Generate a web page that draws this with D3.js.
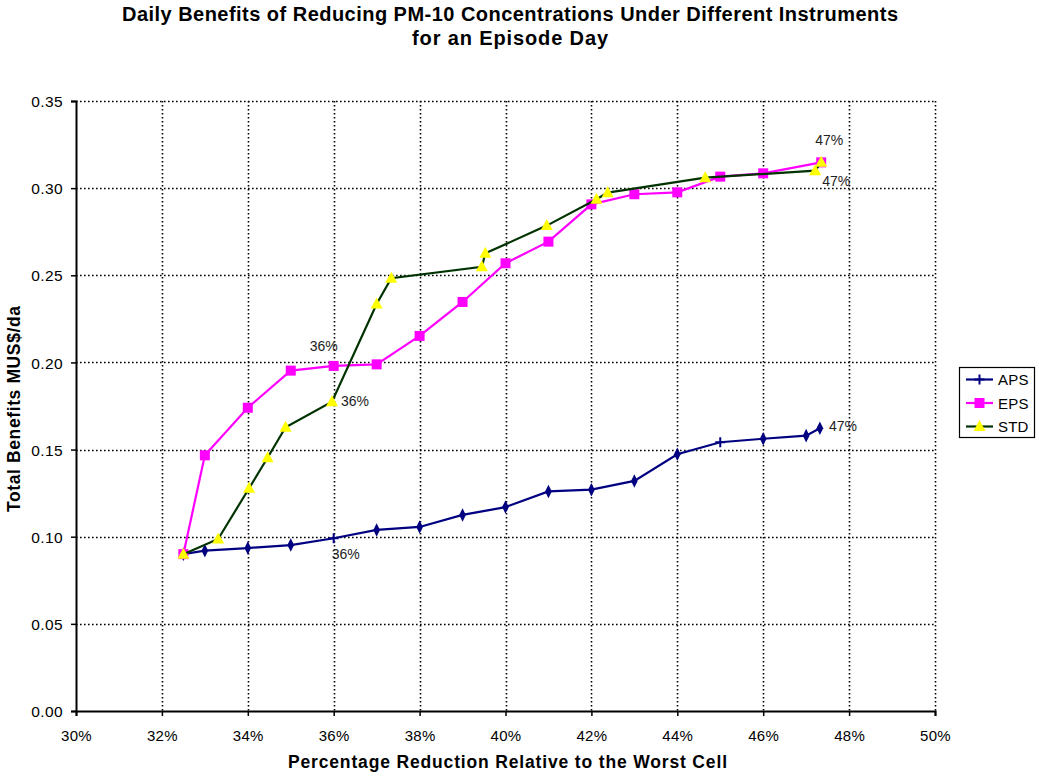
<!DOCTYPE html>
<html>
<head>
<meta charset="utf-8">
<script src="https://cdn.jsdelivr.net/npm/d3@7"></script>
<style>
  body { margin: 0; background: #fff; }
  svg { font-family: "Liberation Sans", Arial, sans-serif; }
</style>
</head>
<body>
<svg id="chart" width="1039" height="778"></svg>
<script>
// Reduction (%) and daily benefits (MUS$/day) per instrument
const apsX = [32.5, 33, 34, 35, 36, 37, 38, 39, 40, 41, 42, 43, 44, 45, 46, 47, 47.32];
const apsY = [0.090, 0.092, 0.0935, 0.0952, 0.0991, 0.1039, 0.1056, 0.1125, 0.117, 0.126, 0.127, 0.132, 0.1473, 0.1542, 0.1562, 0.158, 0.1622];
const apsMarker = ["d","d","d","d","+","d","d","d","d","d","d","d","d","+","d","d","d"];

const epsX = [32.5, 33, 34, 35, 36, 37, 38, 39, 40, 41, 42, 43, 44, 45, 46, 47.35];
const epsY = [0.090, 0.1467, 0.174, 0.1953, 0.198, 0.1989, 0.2152, 0.2347, 0.2569, 0.2693, 0.2907, 0.2965, 0.2976, 0.3066, 0.3085, 0.3148];

const stdX = [32.5, 33.31, 34.03, 34.46, 34.88, 35.96, 37.0, 37.34, 39.45, 39.53, 40.96, 42.12, 42.38, 44.65, 47.21, 47.35];
const stdY = [0.090, 0.0987, 0.1278, 0.1453, 0.1628, 0.1775, 0.2335, 0.2483, 0.2549, 0.2626, 0.2785, 0.2936, 0.2974, 0.306, 0.310, 0.3148];

const xTicks = [30, 32, 34, 36, 38, 40, 42, 44, 46, 48, 50];
const yTicks = [0, 0.05, 0.10, 0.15, 0.20, 0.25, 0.30, 0.35];

// Point annotations: series, index into that series, label text, offset from the point
const annotations = [
  { series: "EPS", i: 4, text: "36%", dx: -24, dy: -15 },
  { series: "STD", i: 5, text: "36%", dx: 9, dy: 4 },
  { series: "APS", i: 4, text: "36%", dx: -2, dy: 21 },
  { series: "EPS", i: 15, text: "47%", dx: -6, dy: -17 },
  { series: "STD", i: 14, text: "47%", dx: 7, dy: 15 },
  { series: "APS", i: 16, text: "47%", dx: 9, dy: 3 }
];

const svg = d3.select("#chart");
const plotL = 76, plotR = 935, plotT = 101, plotB = 711;

const x = d3.scaleLinear().domain([30, 50]).range([plotL, plotR]);
const y = d3.scaleLinear().domain([0, 0.35]).range([plotB, plotT]);

// Title
svg.append("text").attr("x", 510).attr("y", 21).attr("text-anchor", "middle")
  .attr("font-size", 20).attr("font-weight", "bold")
  .attr("textLength", 776).attr("lengthAdjust", "spacing")
  .text("Daily Benefits of Reducing PM-10 Concentrations Under Different Instruments");
svg.append("text").attr("x", 510).attr("y", 45).attr("text-anchor", "middle")
  .attr("font-size", 20).attr("font-weight", "bold")
  .attr("textLength", 196).attr("lengthAdjust", "spacing")
  .text("for an Episode Day");

// Dotted gridlines
const grid = svg.append("g").attr("stroke", "#000").attr("stroke-width", 1.6)
  .attr("stroke-dasharray", "1.6,2.4");
grid.selectAll("line.h").data(yTicks.filter(d => d > 0)).join("line")
  .attr("x1", plotL).attr("x2", plotR)
  .attr("y1", d => Math.round(y(d)) + 0.5).attr("y2", d => Math.round(y(d)) + 0.5);
grid.selectAll("line.v").data(xTicks.filter(d => d > 30)).join("line")
  .attr("y1", plotT).attr("y2", plotB)
  .attr("x1", d => Math.round(x(d)) + 0.5).attr("x2", d => Math.round(x(d)) + 0.5);

// Axes
const xAxis = d3.axisBottom(x).tickValues(xTicks).tickSize(5).tickFormat(d => d + "%");
const yAxis = d3.axisLeft(y).tickValues(yTicks).tickSize(5).tickFormat(d3.format(".2f"));

const gx = svg.append("g").attr("transform", `translate(0,${plotB})`).call(xAxis);
gx.select(".domain").attr("stroke-width", 2);
gx.selectAll(".tick line").attr("stroke-width", 1.5);
gx.selectAll(".tick text").attr("font-size", 15).attr("dy", null).attr("y", 30)
  .attr("letter-spacing", 0.3)
  .attr("font-family", "Liberation Sans, Arial, sans-serif").attr("fill", "#000");

const gy = svg.append("g").attr("transform", `translate(${plotL},0)`).call(yAxis);
gy.select(".domain").attr("stroke-width", 2);
gy.selectAll(".tick line").attr("stroke-width", 1.5);
gy.selectAll(".tick text").attr("font-size", 15.5).attr("x", -13).attr("dy", "0.36em")
  .attr("letter-spacing", 0.4)
  .attr("font-family", "Liberation Sans, Arial, sans-serif").attr("fill", "#000");

// Axis titles
svg.append("text").attr("x", 507.5).attr("y", 768).attr("text-anchor", "middle")
  .attr("font-size", 17.5).attr("font-weight", "bold")
  .attr("textLength", 439).attr("lengthAdjust", "spacing")
  .text("Percentage Reduction Relative to the Worst Cell");
svg.append("text").attr("transform", `translate(20,409) rotate(-90)`)
  .attr("text-anchor", "middle").attr("font-size", 17.5).attr("font-weight", "bold")
  .attr("textLength", 206).attr("lengthAdjust", "spacing")
  .text("Total Benefits MUS$/da");

const series = [
  { name: "APS", xs: apsX, ys: apsY, line: "#000080", fill: "#000080" },
  { name: "EPS", xs: epsX, ys: epsY, line: "#FF00FF", fill: "#FF00FF" },
  { name: "STD", xs: stdX, ys: stdY, line: "#003300", fill: "#FFFF00" }
];

const line = d3.line().x(d => x(d[0])).y(d => y(d[1]));

function drawMarker(g, kind, cx, cy, color) {
  if (kind === "d") {
    g.append("path").attr("d", d3.symbol(d3.symbolDiamond, 48)())
      .attr("transform", `translate(${cx},${cy}) scale(0.9,1.05)`).attr("fill", color);
  } else if (kind === "+") {
    g.append("path").attr("d", `M${cx - 5},${cy}H${cx + 5}M${cx},${cy - 5}V${cy + 5}`)
      .attr("stroke", color).attr("stroke-width", 2).attr("fill", "none");
  } else if (kind === "s") {
    g.append("rect").attr("x", cx - 5).attr("y", cy - 5).attr("width", 10).attr("height", 10)
      .attr("fill", color);
  } else if (kind === "t") {
    g.append("path").attr("d", `M${cx},${cy - 6.5}L${cx + 6},${cy + 4.5}L${cx - 6},${cy + 4.5}Z`)
      .attr("fill", color);
  }
}

// Draw order: APS, EPS, STD (STD triangles on top)
series.forEach(s => {
  const pts = s.xs.map((v, i) => [v, s.ys[i]]);
  const g = svg.append("g");
  g.append("path").datum(pts).attr("d", line).attr("fill", "none")
    .attr("stroke", s.line).attr("stroke-width", 2.2);
  pts.forEach((p, i) => {
    const kind = s.name === "APS" ? apsMarker[i] : (s.name === "EPS" ? "s" : "t");
    drawMarker(g, kind, x(p[0]), y(p[1]), s.fill);
  });
});

// Point labels
const byName = { APS: series[0], EPS: series[1], STD: series[2] };
annotations.forEach(a => {
  const s = byName[a.series];
  const px = x(s.xs[a.i]), py = y(s.ys[a.i]);
  svg.append("text").attr("x", px + a.dx).attr("y", py + a.dy)
    .attr("font-size", 14).attr("fill", "#222").text(a.text);
});

// Legend
const lg = svg.append("g");
lg.append("rect").attr("x", 959.5).attr("y", 367.5).attr("width", 75).attr("height", 70)
  .attr("fill", "#fff").attr("stroke", "#000").attr("stroke-width", 1.2);
const legendMarks = ["+", "s", "t"];
series.forEach((s, i) => {
  const ly = 379.5 + i * 23.5;
  lg.append("line").attr("x1", 966).attr("x2", 993).attr("y1", ly).attr("y2", ly)
    .attr("stroke", s.line).attr("stroke-width", 2.2);
  drawMarker(lg, legendMarks[i], 979.5, ly, s.fill);
  lg.append("text").attr("x", 998).attr("y", ly + 5.5).attr("font-size", 15)
    .attr("letter-spacing", 0.2).text(s.name);
});
</script>
</body>
</html>
